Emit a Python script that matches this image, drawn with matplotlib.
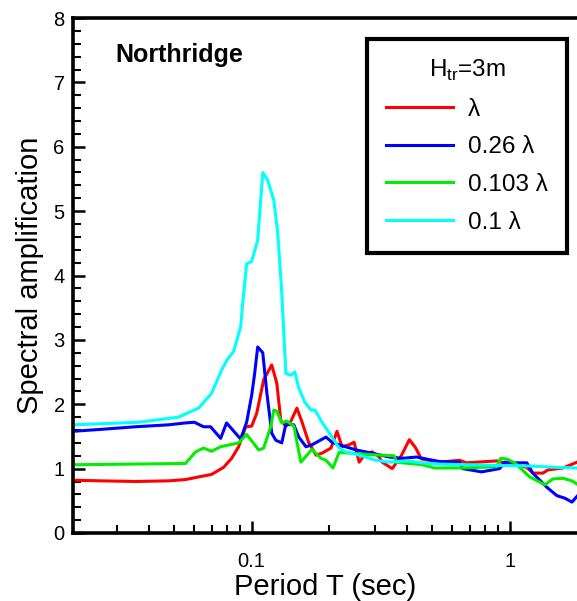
import matplotlib
matplotlib.use("Agg")
import matplotlib.pyplot as plt
from matplotlib.ticker import LogLocator, NullFormatter, FixedLocator, FixedFormatter, MultipleLocator

plt.rcParams['font.family'] = ['Liberation Sans', 'DejaVu Sans']
plt.rcParams['mathtext.fontset'] = 'custom'
plt.rcParams['mathtext.rm'] = 'Liberation Sans'

# lambda
t_red = [0.0203, 0.0261, 0.0354, 0.0475, 0.0554, 0.0639, 0.0699, 0.0778, 0.0836, 0.0890,
         0.0948, 0.1, 0.1046, 0.1113, 0.1196, 0.1251, 0.1297, 0.1356, 0.1405, 0.1497,
         0.1565, 0.1666, 0.1775, 0.1873, 0.2029, 0.2141, 0.2240, 0.2385, 0.2494, 0.2609,
         0.2753, 0.2930, 0.3121, 0.3205, 0.3505, 0.3800, 0.4083, 0.4308, 0.4546, 0.5342,
         0.639, 0.680, 0.890, 0.931, 1.165, 1.229, 1.344, 1.406, 1.608, 1.823]
v_red = [0.82, 0.81, 0.80, 0.81, 0.83, 0.88, 0.91, 1.02, 1.16, 1.34,
         1.65, 1.66, 1.86, 2.38, 2.61, 2.33, 1.75, 1.66, 1.70, 1.94,
         1.73, 1.40, 1.21, 1.24, 1.32, 1.58, 1.34, 1.37, 1.41, 1.10,
         1.23, 1.26, 1.18, 1.10, 1.00, 1.20, 1.45, 1.33, 1.15, 1.10,
         1.13, 1.09, 1.12, 1.10, 1.02, 0.93, 0.93, 0.98, 1.01, 1.10]

# 0.26 lambda
t_blue = [0.0203, 0.0261, 0.0354, 0.0475, 0.0554, 0.0600, 0.0651, 0.0693, 0.0758, 0.0799,
          0.0906, 0.0956, 0.1, 0.1027, 0.1055, 0.1104, 0.1144, 0.1196, 0.1240, 0.1308,
          0.1356, 0.1457, 0.1523, 0.1623, 0.1712, 0.1941, 0.2048, 0.2181, 0.2539, 0.2930,
          0.3413, 0.3835, 0.4347, 0.5342, 0.639, 0.6565, 0.778, 0.914, 0.956, 1.027,
          1.165, 1.229, 1.393, 1.524, 1.637, 1.743, 1.823]
v_blue = [1.58, 1.61, 1.65, 1.68, 1.71, 1.72, 1.65, 1.65, 1.47, 1.71,
          1.46, 1.72, 2.14, 2.48, 2.89, 2.80, 2.19, 1.55, 1.44, 1.40,
          1.69, 1.68, 1.49, 1.34, 1.37, 1.49, 1.41, 1.37, 1.29, 1.24,
          1.18, 1.16, 1.18, 1.11, 1.10, 1.00, 0.95, 1.00, 1.10, 1.09,
          1.09, 0.93, 0.71, 0.58, 0.54, 0.48, 0.57]

# 0.103 lambda
t_green = [0.0203, 0.0554, 0.0606, 0.0651, 0.0699, 0.0758, 0.0890, 0.0956, 0.1065, 0.1113,
           0.1185, 0.1218, 0.1251, 0.1308, 0.1368, 0.1457, 0.1551, 0.1712, 0.1855, 0.1941,
           0.2066, 0.2181, 0.2449, 0.2777, 0.3568, 0.3633, 0.4587, 0.5108, 0.6565, 0.890,
           0.9226, 0.9735, 1.046, 1.196, 1.368, 1.470, 1.608, 1.743, 1.823]
v_green = [1.06, 1.08, 1.26, 1.32, 1.27, 1.34, 1.40, 1.53, 1.29, 1.32,
           1.65, 1.91, 1.89, 1.71, 1.74, 1.66, 1.10, 1.30, 1.16, 1.13,
           1.01, 1.25, 1.24, 1.22, 1.20, 1.10, 1.06, 1.01, 1.01, 1.03,
           1.16, 1.15, 1.09, 0.87, 0.75, 0.84, 0.85, 0.81, 0.76]

# 0.1 lambda
t_cyan = [0.0203, 0.0363, 0.0520, 0.0622, 0.0699, 0.0764, 0.0806, 0.0851, 0.0906, 0.0923,
          0.0956, 0.1, 0.1055, 0.1104, 0.1154, 0.1218, 0.1262, 0.1308, 0.1344, 0.1356,
          0.1418, 0.1470, 0.1523, 0.1608, 0.1696, 0.1759, 0.1873, 0.2048, 0.2181, 0.2321,
          0.2609, 0.3038, 0.3413, 0.3974, 0.4587, 0.5342, 0.7, 0.914, 1.2, 1.5, 1.823]
v_cyan = [1.68, 1.72, 1.80, 1.94, 2.17, 2.53, 2.70, 2.82, 3.20, 3.57,
          4.18, 4.22, 4.55, 5.60, 5.48, 5.17, 4.66, 3.73, 2.80, 2.48,
          2.45, 2.50, 2.25, 2.03, 1.91, 1.91, 1.72, 1.49, 1.32, 1.26,
          1.21, 1.13, 1.10, 1.12, 1.09, 1.07, 1.06, 1.05, 1.04, 1.02, 1.01]

fig = plt.figure(figsize=(5.77, 6.01), dpi=100)
ax = fig.add_axes([73 / 577, 1 - 533 / 601, 504 / 577, 515 / 601])

lw = 2.2
ax.plot(t_red, v_red, color='#ff0000', lw=lw, label='λ')
ax.plot(t_blue, v_blue, color='#0000ff', lw=lw, label='0.26 λ')
ax.plot(t_green, v_green, color='#00ee00', lw=lw, label='0.103 λ')
ax.plot(t_cyan, v_cyan, color='#00ffff', lw=lw, label='0.1 λ')

ax.set_xscale('log')
ax.set_xlim(0.0203, 1.823)
ax.set_ylim(0, 8)
ax.xaxis.set_major_locator(FixedLocator([0.1, 1]))
ax.xaxis.set_major_formatter(FixedFormatter(['0.1', '1']))
ax.xaxis.set_minor_locator(LogLocator(base=10, subs=range(2, 10)))
ax.xaxis.set_minor_formatter(NullFormatter())
ax.yaxis.set_major_locator(MultipleLocator(1))
ax.yaxis.set_minor_locator(MultipleLocator(0.2))

for s in ['left', 'bottom', 'top']:
    ax.spines[s].set_linewidth(2.6)
ax.spines['right'].set_visible(False)
ax.tick_params(which='major', direction='in', length=8.5, width=1.8, labelsize=14.5)
ax.tick_params(which='minor', direction='in', length=5.5, width=1.5)
ax.tick_params(top=False, right=False, which='both')
ax.tick_params(axis='x', pad=14)
ax.tick_params(axis='y', pad=6)

ax.set_xlabel('Period T (sec)', fontsize=21, labelpad=1)
ax.set_ylabel('Spectral amplification', fontsize=21, labelpad=7)

fig.text(115 / 577, 1 - 55 / 601, 'Northridge', fontsize=18, fontweight='bold', va='center')

leg = ax.legend(loc='upper right', bbox_to_anchor=(0.98, 0.959), borderaxespad=0,
                title='H$_{\\rm tr}$=3m', fontsize=17.5, title_fontsize=17.5,
                fancybox=False, framealpha=1, edgecolor='black',
                handlelength=2.75, handletextpad=0.62, labelspacing=0.64,
                borderpad=0.78)
leg.get_frame().set_linewidth(3)
leg._legend_box.align = 'center'

fig.savefig('out.png', dpi=100)
